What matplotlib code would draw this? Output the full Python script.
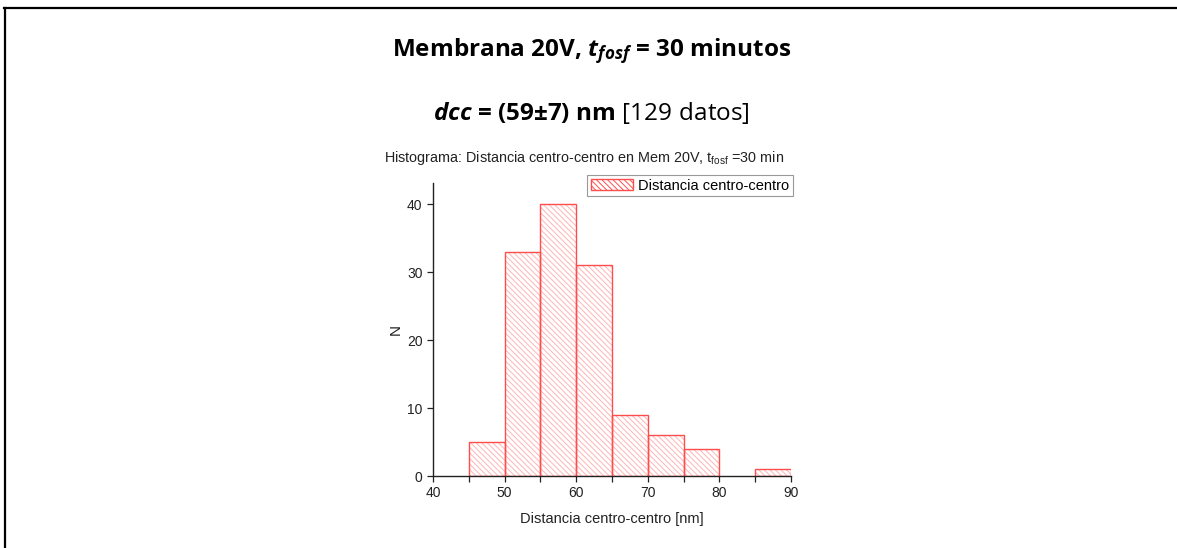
import numpy as np
import matplotlib
matplotlib.use('agg')
import matplotlib.pyplot as plt
from matplotlib.lines import Line2D
from matplotlib.patches import Patch

# Histogram of centre-to-centre distances (20V membrane, 30 min)
bin_edges = [45, 50, 55, 60, 65, 70, 75, 80, 85, 90]
counts = [5, 33, 40, 31, 9, 6, 4, 0, 1]
x_ticks = [40, 50, 60, 70, 80, 90]
y_ticks = [0, 10, 20, 30, 40]

plt.rcParams['font.family'] = ['Liberation Sans', 'DejaVu Sans']
plt.rcParams['mathtext.fontset'] = 'custom'
plt.rcParams['mathtext.rm'] = 'Open Sans'
plt.rcParams['mathtext.bf'] = 'Open Sans:bold'
plt.rcParams['mathtext.bfit'] = 'Open Sans:italic:bold'
plt.rcParams['mathtext.sf'] = 'Liberation Sans'
plt.rcParams['hatch.linewidth'] = 0.7

W, H = 1177, 548
fig = plt.figure(figsize=(W / 100, H / 100), dpi=100)

# page border (top and left only)
fig.add_artist(Line2D([4 / W, 1], [1 - 7.5 / H] * 2, color='black', lw=1.6,
                      transform=fig.transFigure))
fig.add_artist(Line2D([5 / W] * 2, [0, 1 - 7.5 / H], color='black', lw=1.6,
                      transform=fig.transFigure))

# headings
fig.text(592 / W, 1 - 51 / H,
         r'Membrana 20V, $\mathbfit{t_{fosf}}$ = 30 minutos',
         fontsize=17.5, fontweight='bold', family='Open Sans', ha='center', va='center')
fig.text(591 / W, 1 - 113 / H,
         r'$\mathbfit{dcc}$ = (59±7) nm $\mathrm{[129\ datos]}$',
         fontsize=17.5, fontweight='bold', family='Open Sans', ha='center', va='center')

left, right, bottom, top = 433, 791, 476, 183
ax = fig.add_axes([left / W, 1 - bottom / H, (right - left) / W, (bottom - top) / H])

widths = np.diff(bin_edges)
lefts = np.array(bin_edges[:-1])
hatch_col = '#ffb4b4'
edge_col = '#ff4d4d'
ax.bar(lefts, counts, width=widths, align='edge', facecolor='white',
       edgecolor=hatch_col, hatch='\\\\\\\\\\\\', linewidth=0)
for l, w, c in zip(lefts, widths, counts):
    if c > 0:
        ax.bar(l, c, width=w, align='edge', facecolor='none',
               edgecolor=edge_col, linewidth=1.0)

ax.set_xlim(40, 90)
ax.set_ylim(0, 43.1)
ax.set_xticks(x_ticks)
ax.set_xticks(bin_edges, minor=True)
ax.set_yticks(y_ticks)
for s in ['top', 'right']:
    ax.spines[s].set_visible(False)
for s in ['left', 'bottom']:
    ax.spines[s].set_color('#222222')
    ax.spines[s].set_linewidth(1.0)
ax.tick_params(which='both', direction='out', length=4, width=0.9,
               color='#222222', labelsize=10, labelcolor='#222222')

ax.set_xlabel('Distancia centro-centro [nm]', fontsize=10.5, color='#222222', labelpad=8)
ax.set_ylabel('N', fontsize=11, color='#222222', labelpad=3)

fig.text(584 / W, 1 - 158 / H,
         r'Histograma: Distancia centro-centro en Mem 20V, t$_{\mathsf{fosf}}$ =30 min',
         fontsize=10.4, color='#222222', ha='center', va='center')

handle = Patch(facecolor='white', edgecolor=hatch_col, hatch='\\\\\\\\\\\\')
leg = ax.legend([handle], ['Distancia centro-centro'], loc='upper right',
                bbox_to_anchor=(793 / W, 1 - 175 / H), bbox_transform=fig.transFigure,
                borderaxespad=0, fancybox=False, framealpha=1, edgecolor='#999999',
                fontsize=10.5, handlelength=2.9, handleheight=0.7,
                borderpad=0.25, handletextpad=0.35)
leg.get_frame().set_linewidth(0.8)
leg.legend_handles[0].set_edgecolor(edge_col)

fig.savefig('out.png', dpi=100)
